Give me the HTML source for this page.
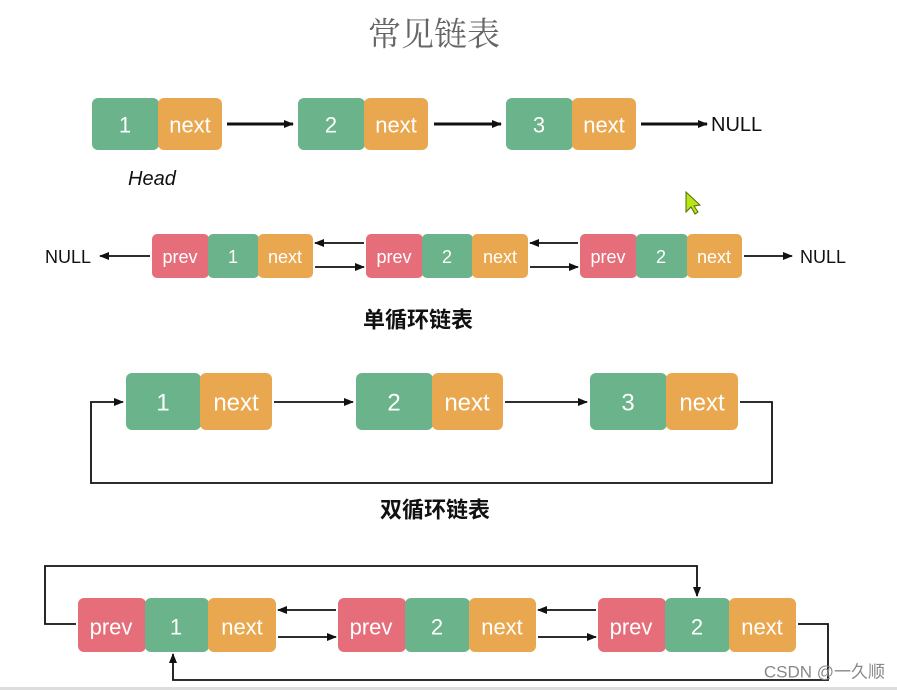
<!DOCTYPE html>
<html><head><meta charset="utf-8"><style>
html,body{margin:0;padding:0;background:#fff;width:897px;height:690px;overflow:hidden}
text{font-family:"Liberation Sans","Noto Sans CJK SC",sans-serif}
.w{fill:#fff;text-anchor:middle;dominant-baseline:central}
</style></head><body>
<svg width="897" height="690" viewBox="0 0 897 690" xmlns="http://www.w3.org/2000/svg">
<defs>
<marker id="a" markerWidth="10" markerHeight="10" refX="9" refY="5" orient="auto" markerUnits="userSpaceOnUse"><path d="M0,1 L10,5 L0,9 z" fill="#111"/></marker>
</defs>
<text x="434" y="32" font-size="33" fill="#666" text-anchor="middle" dominant-baseline="central" style="font-family:'Noto Serif CJK SC',serif">常见链表</text>

<!-- row 1 -->
<g font-size="22">
<rect x="92" y="98" width="67" height="52" rx="6" fill="#6bb38a"/><rect x="158" y="98" width="64" height="52" rx="6" fill="#e9a84f"/>
<text class="w" x="125" y="125">1</text><text class="w" x="190" y="125">next</text>
<rect x="298" y="98" width="67" height="52" rx="6" fill="#6bb38a"/><rect x="364" y="98" width="64" height="52" rx="6" fill="#e9a84f"/>
<text class="w" x="331" y="125">2</text><text class="w" x="396" y="125">next</text>
<rect x="506" y="98" width="67" height="52" rx="6" fill="#6bb38a"/><rect x="572" y="98" width="64" height="52" rx="6" fill="#e9a84f"/>
<text class="w" x="539" y="125">3</text><text class="w" x="604" y="125">next</text>
</g>
<g stroke="#111" stroke-width="3" fill="none">
<line x1="227" y1="124" x2="293" y2="124" marker-end="url(#a)"/>
<line x1="434" y1="124" x2="501" y2="124" marker-end="url(#a)"/>
<line x1="641" y1="124" x2="707" y2="124" marker-end="url(#a)"/>
</g>
<text x="711" y="125" font-size="20" fill="#111" dominant-baseline="central">NULL</text>
<text x="128" y="179" font-size="20" fill="#111" dominant-baseline="central" font-style="italic">Head</text>

<!-- cursor -->
<path d="M686,192 L686,212 L691,207 L695,214 L698,212 L694,206 L700,205 z" fill="#b7e51a" stroke="#556b00" stroke-width="1"/>

<!-- row 2 -->
<g font-size="18">
<rect x="152" y="234" width="57" height="44" rx="5" fill="#e66e7a"/><rect x="208" y="234" width="51" height="44" rx="5" fill="#6bb38a"/><rect x="258" y="234" width="55" height="44" rx="5" fill="#e9a84f"/>
<text class="w" x="180" y="257">prev</text><text class="w" x="233" y="257">1</text><text class="w" x="285" y="257">next</text>
<rect x="366" y="234" width="57" height="44" rx="5" fill="#e66e7a"/><rect x="422" y="234" width="51" height="44" rx="5" fill="#6bb38a"/><rect x="472" y="234" width="56" height="44" rx="5" fill="#e9a84f"/>
<text class="w" x="394" y="257">prev</text><text class="w" x="447" y="257">2</text><text class="w" x="500" y="257">next</text>
<rect x="580" y="234" width="57" height="44" rx="5" fill="#e66e7a"/><rect x="636" y="234" width="52" height="44" rx="5" fill="#6bb38a"/><rect x="687" y="234" width="55" height="44" rx="5" fill="#e9a84f"/>
<text class="w" x="608" y="257">prev</text><text class="w" x="661" y="257">2</text><text class="w" x="714" y="257">next</text>
</g>
<g stroke="#111" stroke-width="1.8" fill="none">
<line x1="150" y1="256" x2="100" y2="256" marker-end="url(#a)"/>
<line x1="364" y1="243" x2="315" y2="243" marker-end="url(#a)"/>
<line x1="315" y1="267" x2="364" y2="267" marker-end="url(#a)"/>
<line x1="578" y1="243" x2="530" y2="243" marker-end="url(#a)"/>
<line x1="530" y1="267" x2="578" y2="267" marker-end="url(#a)"/>
<line x1="744" y1="256" x2="792" y2="256" marker-end="url(#a)"/>
</g>
<text x="45" y="257" font-size="18" fill="#111" dominant-baseline="central">NULL</text>
<text x="800" y="257" font-size="18" fill="#111" dominant-baseline="central">NULL</text>
<text x="418" y="320" font-size="22" font-weight="bold" fill="#111" text-anchor="middle" dominant-baseline="central">单循环链表</text>

<!-- row 3 -->
<g font-size="24">
<rect x="126" y="373" width="75" height="57" rx="6" fill="#6bb38a"/><rect x="200" y="373" width="72" height="57" rx="6" fill="#e9a84f"/>
<text class="w" x="163" y="403">1</text><text class="w" x="236" y="403">next</text>
<rect x="356" y="373" width="77" height="57" rx="6" fill="#6bb38a"/><rect x="432" y="373" width="71" height="57" rx="6" fill="#e9a84f"/>
<text class="w" x="394" y="403">2</text><text class="w" x="467" y="403">next</text>
<rect x="590" y="373" width="77" height="57" rx="6" fill="#6bb38a"/><rect x="666" y="373" width="72" height="57" rx="6" fill="#e9a84f"/>
<text class="w" x="628" y="403">3</text><text class="w" x="702" y="403">next</text>
</g>
<g stroke="#111" stroke-width="1.8" fill="none">
<line x1="274" y1="402" x2="353" y2="402" marker-end="url(#a)"/>
<line x1="505" y1="402" x2="587" y2="402" marker-end="url(#a)"/>
<polyline points="740,402 772,402 772,483 91,483 91,402 123,402" marker-end="url(#a)"/>
</g>
<text x="435" y="510" font-size="22" font-weight="bold" fill="#111" text-anchor="middle" dominant-baseline="central">双循环链表</text>

<!-- row 4 -->
<g font-size="22">
<rect x="78" y="598" width="68" height="54" rx="6" fill="#e66e7a"/><rect x="145" y="598" width="64" height="54" rx="6" fill="#6bb38a"/><rect x="208" y="598" width="68" height="54" rx="6" fill="#e9a84f"/>
<text class="w" x="111" y="627">prev</text><text class="w" x="176" y="627">1</text><text class="w" x="242" y="627">next</text>
<rect x="338" y="598" width="68" height="54" rx="6" fill="#e66e7a"/><rect x="405" y="598" width="65" height="54" rx="6" fill="#6bb38a"/><rect x="469" y="598" width="67" height="54" rx="6" fill="#e9a84f"/>
<text class="w" x="371" y="627">prev</text><text class="w" x="437" y="627">2</text><text class="w" x="502" y="627">next</text>
<rect x="598" y="598" width="68" height="54" rx="6" fill="#e66e7a"/><rect x="665" y="598" width="65" height="54" rx="6" fill="#6bb38a"/><rect x="729" y="598" width="67" height="54" rx="6" fill="#e9a84f"/>
<text class="w" x="631" y="627">prev</text><text class="w" x="697" y="627">2</text><text class="w" x="762" y="627">next</text>
</g>
<g stroke="#111" stroke-width="1.8" fill="none">
<line x1="336" y1="610" x2="278" y2="610" marker-end="url(#a)"/>
<line x1="278" y1="637" x2="336" y2="637" marker-end="url(#a)"/>
<line x1="596" y1="610" x2="538" y2="610" marker-end="url(#a)"/>
<line x1="538" y1="637" x2="596" y2="637" marker-end="url(#a)"/>
<polyline points="76,624 45,624 45,566 697,566 697,596" marker-end="url(#a)"/>
<polyline points="798,624 828,624 828,680 173,680 173,654" marker-end="url(#a)"/>
</g>
<rect x="0" y="687" width="897" height="3" fill="#ddd"/>
<text x="885" y="672" font-size="17" fill="#888" text-anchor="end" dominant-baseline="central">CSDN @一久顺</text>
</svg>
</body></html>
